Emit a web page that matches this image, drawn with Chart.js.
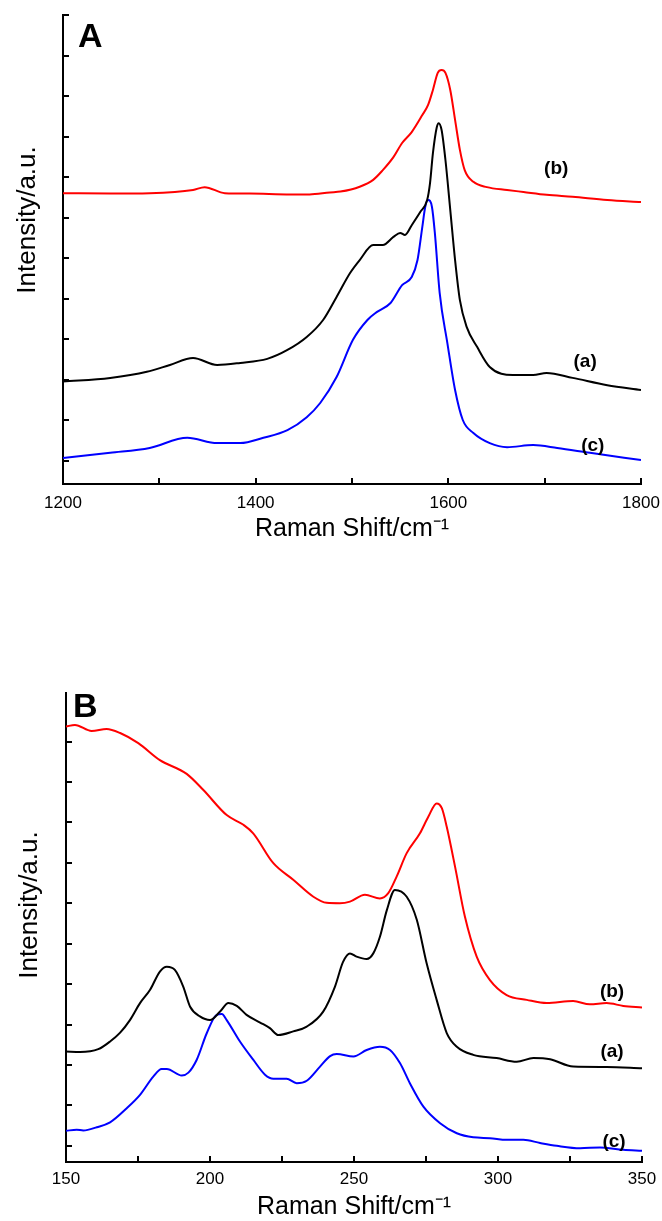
<!DOCTYPE html>
<html>
<head>
<meta charset="utf-8">
<script src="https://cdn.jsdelivr.net/npm/chart.js@4.4.0/dist/chart.umd.min.js"></script>
<style>
  html, body { margin: 0; padding: 0; background: #fff; }
  body { width: 662px; height: 1221px; position: relative; overflow: hidden; }
  canvas { position: absolute; left: 0; }
  #chartA { top: 0; }
  #chartB { top: 660px; }
</style>
</head>
<body>
<canvas id="chartA" width="662" height="560"></canvas>
<canvas id="chartB" width="662" height="561"></canvas>
<script>
// Panel A: 1200-1800 cm-1
const shiftA_a = [1200, 1249, 1287, 1311, 1335, 1360, 1384, 1412, 1433, 1453, 1470, 1484, 1498, 1508, 1522, 1532, 1543, 1550, 1555, 1562, 1571, 1578, 1581, 1584, 1588, 1590, 1593, 1597, 1602, 1607, 1612, 1619, 1630, 1643, 1667, 1688, 1702, 1729, 1765, 1800];
const intensityA_a = [0.95, 1.04, 1.19, 1.36, 1.53, 1.36, 1.41, 1.51, 1.73, 2.05, 2.47, 3.04, 3.63, 3.95, 4.32, 4.32, 4.52, 4.62, 4.57, 4.81, 5.14, 5.43, 5.85, 6.59, 7.23, 7.33, 7.16, 6.42, 5.19, 3.95, 2.96, 2.30, 1.80, 1.31, 1.11, 1.11, 1.16, 1.04, 0.86, 0.74];

const shiftA_b = [1200, 1249, 1290, 1335, 1347, 1368, 1394, 1436, 1456, 1477, 1488, 1508, 1522, 1532, 1543, 1552, 1562, 1573, 1579, 1584, 1589, 1593, 1597, 1602, 1607, 1612, 1617, 1626, 1640, 1661, 1678, 1702, 1729, 1765, 1800];
const intensityA_b = [5.60, 5.59, 5.60, 5.68, 5.75, 5.60, 5.59, 5.57, 5.57, 5.62, 5.64, 5.76, 5.93, 6.17, 6.49, 6.84, 7.11, 7.53, 7.78, 8.15, 8.57, 8.64, 8.57, 8.15, 7.41, 6.67, 6.17, 5.88, 5.75, 5.68, 5.63, 5.56, 5.51, 5.43, 5.38];

const shiftA_c = [1200, 1249, 1290, 1329, 1360, 1384, 1408, 1433, 1453, 1467, 1484, 1501, 1516, 1526, 1540, 1552, 1562, 1568, 1573, 1576, 1579, 1583, 1586, 1591, 1599, 1607, 1615, 1626, 1643, 1661, 1688, 1713, 1747, 1800];
const intensityA_c = [-0.94, -0.81, -0.69, -0.44, -0.57, -0.57, -0.44, -0.25, 0.07, 0.42, 1.06, 1.98, 2.47, 2.67, 2.89, 3.33, 3.53, 3.95, 4.77, 5.26, 5.43, 5.26, 4.62, 3.14, 1.90, 0.74, 0.00, -0.32, -0.57, -0.67, -0.62, -0.69, -0.81, -0.99];

// Panel B: 150-350 cm-1
const shiftB_a = [150, 154.9, 161.2, 165.3, 168.8, 172.2, 175.7, 179.2, 182.6, 185.0, 187.8, 190.7, 193.1, 196.5, 200.0, 203.5, 206.4, 209.3, 212.7, 217.4, 220.8, 223.7, 228.9, 233.6, 239.3, 243.4, 246.2, 248.6, 250.9, 254.4, 256.7, 259.0, 261.4, 264.2, 268.3, 271.8, 275.2, 278.7, 282.2, 285.7, 291.4, 299.5, 306.5, 312.3, 318.1, 326.1, 337.7, 350];
const intensityB_a = [2.33, 2.32, 2.39, 2.58, 2.80, 3.11, 3.53, 3.86, 4.31, 4.43, 4.35, 3.94, 3.44, 3.20, 3.11, 3.32, 3.53, 3.46, 3.24, 3.05, 2.91, 2.74, 2.83, 2.95, 3.32, 3.94, 4.55, 4.76, 4.68, 4.62, 4.76, 5.17, 5.83, 6.33, 6.16, 5.59, 4.52, 3.61, 2.79, 2.45, 2.25, 2.17, 2.08, 2.17, 2.14, 1.96, 1.95, 1.92];

const shiftB_b = [150, 153.1, 158.9, 164.1, 168.8, 175.1, 182.6, 191.9, 197.7, 205.8, 211.6, 215.0, 222.0, 228.9, 235.9, 240.5, 245.1, 248.6, 253.8, 259.0, 261.9, 264.8, 268.3, 272.9, 275.8, 278.7, 280.5, 282.2, 285.1, 288.5, 292.6, 297.2, 303.0, 310.0, 316.9, 326.1, 331.9, 337.7, 343.5, 350];
const intensityB_b = [10.37, 10.41, 10.26, 10.31, 10.21, 9.96, 9.54, 9.20, 8.80, 8.18, 7.94, 7.73, 6.99, 6.58, 6.16, 6.01, 6.00, 6.04, 6.21, 6.12, 6.25, 6.66, 7.24, 7.73, 8.14, 8.47, 8.35, 7.89, 6.90, 5.67, 4.68, 4.10, 3.73, 3.61, 3.53, 3.58, 3.50, 3.53, 3.46, 3.42];

const shiftB_c = [150, 153.7, 156.0, 160.7, 165.3, 171.1, 175.7, 180.3, 183.2, 185.0, 190.2, 192.5, 195.4, 198.9, 202.3, 204.1, 205.8, 210.4, 215.0, 219.1, 222.0, 226.6, 230.1, 233.6, 238.2, 241.7, 244.0, 249.8, 254.4, 259.0, 262.5, 266.0, 269.4, 274.1, 279.9, 285.7, 291.4, 297.2, 303.0, 308.8, 314.6, 320.4, 328.5, 335.4, 343.5, 350];
const intensityB_c = [0.37, 0.40, 0.38, 0.46, 0.58, 0.93, 1.26, 1.71, 1.90, 1.90, 1.74, 1.81, 2.13, 2.79, 3.24, 3.26, 3.11, 2.58, 2.13, 1.76, 1.66, 1.66, 1.55, 1.61, 1.96, 2.22, 2.27, 2.21, 2.37, 2.45, 2.37, 2.04, 1.55, 0.97, 0.56, 0.31, 0.21, 0.19, 0.15, 0.15, 0.07, 0.00, -0.06, -0.04, -0.10, -0.12];

// curve tags (a), (b), (c)
const curveTags = ["(a)", "(b)", "(c)"];
const tagShiftA = [1742, 1712, 1750];
const tagIntensityA = [1.43, 6.2, -0.64];
const tagShiftB = [339.6, 339.6, 340.3];
const tagIntensityB = [2.32, 3.81, 0.10];

const FONT = '"Liberation Sans", Arial, sans-serif';
const COLORS = { a: "#000000", b: "#ff0000", c: "#0000ff" };

const toPoints = (xs, ys) => xs.map((x, i) => ({ x: x, y: ys[i] }));

// panel letter, curve tags and the y title
const annotate = {
  id: "annotate",
  afterDraw(chart, args, opts) {
    const { ctx, chartArea, scales } = chart;
    ctx.save();
    ctx.fillStyle = "#000";

    ctx.font = "bold 34px " + FONT;
    ctx.textAlign = "left";
    ctx.textBaseline = "alphabetic";
    ctx.fillText(opts.panel, chartArea.left + opts.panelDx, chartArea.top + opts.panelDy);

    ctx.font = "bold 19px " + FONT;
    ctx.textAlign = "center";
    ctx.textBaseline = "middle";
    curveTags.forEach((tag, i) => {
      const px = scales.x.getPixelForValue(opts.tagX[i]);
      const py = scales.y.getPixelForValue(opts.tagY[i]);
      ctx.fillText(tag, px, py);
    });

    ctx.translate(opts.titleX, chartArea.top + (chartArea.bottom - chartArea.top) * opts.titlePos);
    ctx.rotate(-Math.PI / 2);
    ctx.font = "26px " + FONT;
    ctx.textAlign = "center";
    ctx.textBaseline = "alphabetic";
    ctx.fillText("Intensity/a.u.", 0, 0);
    ctx.restore();
  },
};

function makeChart(canvasId, cfg) {
  const ctx = document.getElementById(canvasId).getContext("2d");
  return new Chart(ctx, {
    type: "line",
    data: {
      datasets: [
        { label: "(b)", data: cfg.b, borderColor: COLORS.b },
        { label: "(a)", data: cfg.a, borderColor: COLORS.a },
        { label: "(c)", data: cfg.c, borderColor: COLORS.c },
      ].map((d) => ({
        ...d,
        borderWidth: 2,
        pointRadius: 0,
        fill: false,
        cubicInterpolationMode: "monotone",
      })),
    },
    options: {
      responsive: false,
      devicePixelRatio: 1,
      animation: false,
      layout: { padding: cfg.padding },
      plugins: {
        legend: { display: false },
        tooltip: { enabled: false },
        annotate: cfg.annotate,
      },
      scales: {
        x: {
          type: "linear",
          min: cfg.xMin,
          max: cfg.xMax,
          border: { display: true, color: "#000", width: 2 },
          grid: { drawOnChartArea: false, drawTicks: true, tickLength: -6, color: "#000", lineWidth: 2 },
          ticks: {
            stepSize: cfg.xStep,
            autoSkip: false,
            maxRotation: 0,
            padding: cfg.xTickPad,
            color: "#000",
            font: { family: FONT, size: 17 },
            callback: (v) => (v % cfg.xLabelEvery === 0 ? String(v) : ""),
          },
          title: {
            display: true,
            text: "Raman Shift/cm\u207B\u00B9",
            color: "#000",
            font: { family: FONT, size: 25, lineHeight: 1 },
            padding: { top: 0, bottom: cfg.xTitlePad },
          },
          afterFit: (s) => {
            s.height = cfg.xHeight;
            s.paddingLeft = 0;
            s.paddingRight = 0;
          },
        },
        y: {
          type: "linear",
          min: cfg.yMin,
          max: cfg.yMax,
          border: { display: true, color: "#000", width: 2 },
          grid: { drawOnChartArea: false, drawTicks: true, tickLength: -6, color: "#000", lineWidth: 2 },
          ticks: { display: false, stepSize: 1 },
          afterBuildTicks: (s) => {
            s.ticks = s.ticks.filter((t) => Math.abs(t.value - Math.round(t.value)) < 1e-6);
          },
          afterFit: (s) => {
            s.width = cfg.yWidth;
            s.paddingTop = 0;
            s.paddingBottom = 0;
          },
        },
      },
    },
    plugins: [annotate],
  });
}

makeChart("chartA", {
  a: toPoints(shiftA_a, intensityA_a),
  b: toPoints(shiftA_b, intensityA_b),
  c: toPoints(shiftA_c, intensityA_c),
  xMin: 1200, xMax: 1800, xStep: 100, xLabelEvery: 200,
  yMin: -1.58, yMax: 10,
  padding: { top: 15, left: 0, right: 21, bottom: 0 },
  yWidth: 63, xHeight: 76, xTickPad: 15, xTitlePad: 18,
  annotate: {
    panel: "A", panelDx: 15, panelDy: 32,
    tagX: tagShiftA, tagY: tagIntensityA,
    titleX: 35, titlePos: 0.437,
  },
});

makeChart("chartB", {
  a: toPoints(shiftB_a, intensityB_a),
  b: toPoints(shiftB_b, intensityB_b),
  c: toPoints(shiftB_c, intensityB_c),
  xMin: 150, xMax: 350, xStep: 25, xLabelEvery: 50,
  yMin: -0.4, yMax: 11.2,
  padding: { top: 33, left: 0, right: 20, bottom: 0 },
  yWidth: 66, xHeight: 59, xTickPad: 13, xTitlePad: 1,
  annotate: {
    panel: "B", panelDx: 7, panelDy: 24,
    tagX: tagShiftB, tagY: tagIntensityB,
    titleX: 37, titlePos: 0.452,
  },
});
</script>
</body>
</html>
